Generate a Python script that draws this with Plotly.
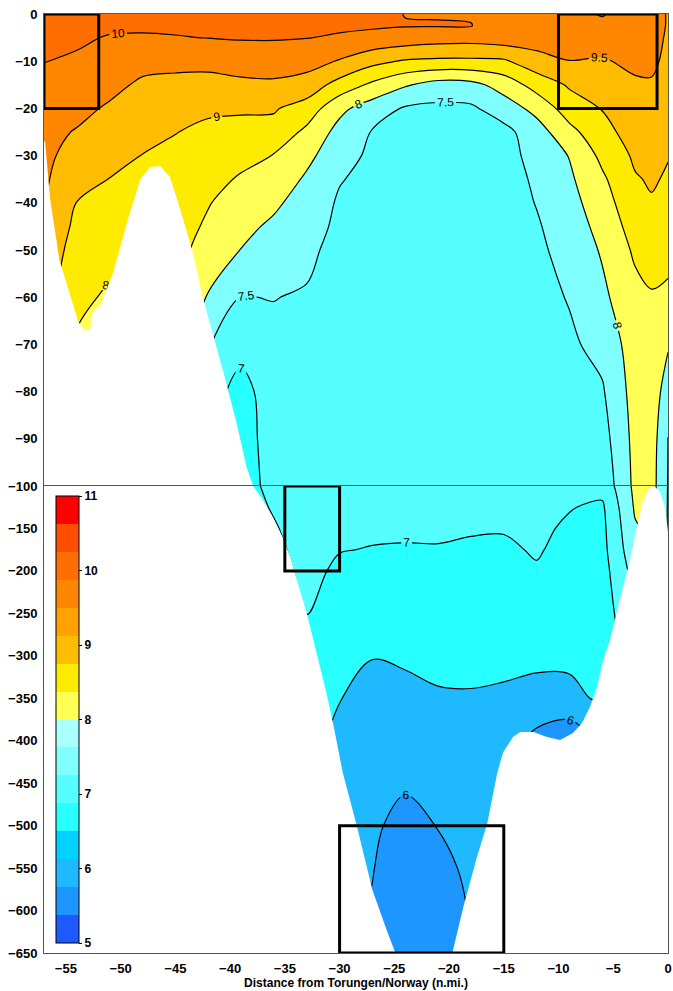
import plotly.graph_objects as go
from plotly.subplots import make_subplots

# ---------------- data ----------------
distance_nmi = [-57, -54, -51, -48, -45, -42, -39, -36, -33, -30, -27, -24, -21,
                -18, -15, -12, -9, -6, -3, -1.5, 0]
depth_m = [0, 2.5, 5, 10, 15, 20, 25, 30, 35, 40, 45, 50, 60, 70, 80, 90, 100,
           125, 150, 175, 200, 250, 300, 350, 400, 450, 500, 550, 600, 650]

# temperature profiles (deg C) at each distance, listed by depth_m
temp_m57 = [10.30, 10.26, 10.18, 10.01, 9.86, 9.74, 9.63, 9.60, 9.57, 9.53, 9.45, 9.35, 9.20, 9.05, 8.90, 8.80, 8.70, 8.50, 8.30, 8.10, 7.90, 7.60, 7.30, 7.00, 6.80, 6.60, 6.40, 6.30, 6.20, 6.10]
temp_m54 = [10.25, 10.17, 10.07, 9.94, 9.78, 9.63, 9.47, 9.33, 9.16, 8.99, 8.88, 8.78, 8.60, 8.45, 8.35, 8.28, 8.20, 8.00, 7.80, 7.60, 7.45, 7.20, 7.00, 6.80, 6.60, 6.45, 6.35, 6.25, 6.15, 6.10]
temp_m51 = [10.20, 10.08, 9.97, 9.80, 9.63, 9.44, 9.30, 9.16, 8.99, 8.88, 8.80, 8.66, 8.44, 8.30, 8.20, 8.10, 8.00, 7.80, 7.60, 7.45, 7.30, 7.10, 6.90, 6.75, 6.60, 6.45, 6.35, 6.25, 6.15, 6.10]
temp_m48 = [10.18, 10.06, 9.96, 9.65, 9.42, 9.25, 9.12, 8.99, 8.88, 8.80, 8.75, 8.70, 8.60, 8.55, 8.45, 8.35, 8.25, 8.00, 7.80, 7.60, 7.45, 7.20, 7.00, 6.80, 6.60, 6.45, 6.35, 6.25, 6.15, 6.10]
temp_m45 = [10.15, 10.07, 9.98, 9.65, 9.35, 9.15, 9.01, 8.92, 8.85, 8.80, 8.74, 8.68, 8.60, 8.52, 8.40, 8.30, 8.20, 8.00, 7.80, 7.60, 7.45, 7.20, 7.00, 6.80, 6.60, 6.45, 6.35, 6.25, 6.15, 6.10]
temp_m42 = [10.14, 10.07, 10.01, 9.62, 9.36, 9.06, 8.92, 8.80, 8.68, 8.53, 8.42, 8.28, 7.96, 7.55, 7.10, 7.05, 6.98, 6.94, 6.90, 6.86, 6.82, 6.75, 6.70, 6.60, 6.52, 6.42, 6.32, 6.22, 6.15, 6.10]
temp_m39 = [10.15, 10.09, 10.03, 9.75, 9.38, 9.04, 8.90, 8.66, 8.44, 8.25, 8.12, 7.99, 7.49, 7.08, 6.92, 6.90, 6.90, 6.85, 6.82, 6.80, 6.78, 6.70, 6.65, 6.55, 6.47, 6.38, 6.28, 6.20, 6.15, 6.10]
temp_m36 = [10.16, 10.10, 10.03, 9.78, 9.40, 9.04, 8.86, 8.48, 8.30, 8.08, 7.92, 7.82, 7.51, 7.40, 7.12, 7.10, 7.07, 7.03, 6.97, 6.92, 6.88, 6.80, 6.70, 6.60, 6.52, 6.42, 6.32, 6.22, 6.15, 6.10]
temp_m33 = [10.18, 10.10, 10.01, 9.70, 9.28, 8.80, 8.38, 8.12, 7.93, 7.80, 7.70, 7.60, 7.46, 7.38, 7.32, 7.28, 7.25, 7.20, 7.16, 7.12, 7.08, 7.01, 6.90, 6.75, 6.62, 6.48, 6.38, 6.28, 6.20, 6.12]
temp_m30 = [10.15, 10.06, 9.96, 9.46, 8.82, 8.12, 7.84, 7.70, 7.53, 7.44, 7.40, 7.35, 7.30, 7.26, 7.23, 7.20, 7.17, 7.12, 7.06, 7.01, 6.95, 6.85, 6.68, 6.51, 6.40, 6.30, 6.20, 6.12, 6.08, 6.05]
temp_m27 = [10.12, 10.05, 9.88, 9.15, 8.40, 7.75, 7.47, 7.40, 7.36, 7.33, 7.30, 7.28, 7.25, 7.22, 7.20, 7.18, 7.15, 7.10, 7.04, 6.99, 6.90, 6.75, 6.51, 6.40, 6.30, 6.20, 6.04, 6.01, 5.98, 5.95]
temp_m24 = [9.99, 10.02, 9.80, 8.95, 8.05, 7.45, 7.38, 7.34, 7.31, 7.29, 7.27, 7.25, 7.22, 7.20, 7.18, 7.16, 7.14, 7.10, 7.04, 6.98, 6.90, 6.75, 6.53, 6.44, 6.20, 6.03, 5.92, 5.85, 5.82, 5.80]
temp_m21 = [9.98, 10.02, 9.72, 8.90, 7.80, 7.40, 7.33, 7.30, 7.28, 7.26, 7.25, 7.24, 7.22, 7.20, 7.18, 7.16, 7.14, 7.10, 7.05, 6.98, 6.90, 6.76, 6.60, 6.46, 6.30, 6.15, 6.01, 5.90, 5.85, 5.82]
temp_m18 = [9.97, 10.01, 9.70, 8.90, 7.85, 7.42, 7.34, 7.31, 7.29, 7.27, 7.26, 7.25, 7.23, 7.21, 7.19, 7.17, 7.15, 7.10, 7.03, 6.95, 6.88, 6.75, 6.60, 6.47, 6.35, 6.25, 6.15, 6.07, 6.02, 6.01]
temp_m15 = [9.92, 9.88, 9.78, 8.93, 8.20, 7.75, 7.35, 7.30, 7.28, 7.26, 7.25, 7.24, 7.22, 7.20, 7.18, 7.16, 7.14, 7.09, 7.02, 6.95, 6.88, 6.75, 6.58, 6.45, 6.30, 6.20, 6.12, 6.08, 6.05, 6.03]
temp_m12 = [9.90, 9.82, 9.75, 9.30, 8.70, 8.15, 7.78, 7.68, 7.58, 7.52, 7.45, 7.40, 7.34, 7.30, 7.27, 7.24, 7.20, 7.14, 7.08, 7.03, 6.97, 6.80, 6.60, 6.35, 5.85, 5.80, 5.80, 5.80, 5.80, 5.80]
temp_m9 = [9.92, 9.85, 9.78, 9.49, 9.06, 8.75, 8.35, 8.02, 7.92, 7.83, 7.76, 7.68, 7.53, 7.42, 7.35, 7.28, 7.20, 7.02, 6.94, 6.90, 6.86, 6.75, 6.56, 6.42, 5.60, 5.70, 5.75, 5.80, 5.80, 5.80]
temp_m6 = [10.02, 9.93, 9.75, 9.45, 9.25, 9.02, 8.85, 8.62, 8.42, 8.28, 8.15, 8.05, 7.90, 7.65, 7.45, 7.30, 7.15, 6.93, 6.88, 6.85, 6.80, 6.72, 6.60, 6.55, 6.20, 6.10, 6.05, 6.03, 6.02, 6.02]
temp_m3 = [9.85, 9.80, 9.75, 9.62, 9.42, 9.30, 9.20, 9.08, 8.96, 8.85, 8.72, 8.58, 8.35, 8.25, 8.20, 8.15, 8.12, 8.06, 7.95, 7.85, 7.70, 7.48, 7.30, 7.10, 6.98, 6.90, 6.80, 6.70, 6.60, 6.52]
temp_m1p5 = [9.80, 9.78, 9.72, 9.60, 9.45, 9.35, 9.25, 9.15, 9.05, 8.96, 8.85, 8.74, 8.45, 8.35, 8.30, 8.25, 8.20, 8.15, 8.10, 8.02, 7.90, 7.70, 7.45, 7.30, 7.10, 6.95, 6.85, 6.75, 6.65, 6.55]
temp_0 = [9.45, 9.45, 9.42, 9.38, 9.30, 9.20, 9.10, 9.02, 8.95, 8.85, 8.75, 8.65, 8.40, 8.05, 7.75, 7.49, 7.48, 7.47, 7.46, 7.40, 7.30, 7.10, 6.90, 6.70, 6.60, 6.48, 6.40, 6.30, 6.20, 6.10]

profiles = [temp_m57, temp_m54, temp_m51, temp_m48, temp_m45, temp_m42, temp_m39,
            temp_m36, temp_m33, temp_m30, temp_m27, temp_m24, temp_m21, temp_m18,
            temp_m15, temp_m12, temp_m9, temp_m6, temp_m3, temp_m1p5, temp_0]

# bottom (seabed) profile: distance (n.mi.) and depth (m)
seabed_dist = [-57.0, -56.9, -56.45, -55.6, -53.9, -53.35, -52.8, -52.5, -51.9, -50.7,
               -49.4, -48.2, -47.3, -46.4, -45.5, -44.6, -43.4, -42.5, -41.6, -40.6,
               -39.4, -38.5, -37.9, -37.0, -36.1, -35.2, -34.5, -33.9, -33.0, -32.1,
               -31.2, -30.6, -29.7, -28.4, -27.0, -25.7, -24.9, -22.3, -19.7, -18.7,
               -17.45, -16.5, -15.6, -15.07, -14.16, -13.5, -12.3, -11.05, -9.86, -8.68,
               -7.85, -7.12, -6.48, -5.93, -5.29, -4.38, -3.47, -2.83, -2.28, -1.64,
               -1.4, -1.19, -0.73, -0.27, 0.0]
seabed_depth = [27, 27, 39, 52, 65, 67, 67, 62.7, 62, 55,
                44, 35, 32.4, 32.2, 34.5, 41, 50.6, 60, 67.6, 76,
                86.7, 96, 100, 116.5, 136.5, 160, 183.6, 210.7, 249.6, 296.7,
                343.8, 379, 438, 501.6, 575.8, 623, 650, 690, 650, 596,
                537, 497, 438, 414, 395.6, 389.7, 389.7, 395.6, 399, 391,
                379, 360, 336.7, 305, 281, 233, 187, 148, 116.5, 102,
                100.5, 101, 107, 125, 155]

# highlighted boxes
box_left = [-57, -10, -35, -30]
box_right = [-52, -1, -30, -15]
box_top = [0, 0, -100, -500]
box_bottom = [-20, -20, -200, -650]
box_panel = ["y", "y", "y2", "y2"]

# colour map (16 steps from 5 to 11)
cmap_colors = ["rgb(30,90,255)", "rgb(30,150,255)", "rgb(30,185,255)", "rgb(0,210,255)",
               "rgb(40,255,255)", "rgb(85,255,255)", "rgb(128,255,255)", "rgb(170,255,255)",
               "rgb(255,255,85)", "rgb(255,235,0)", "rgb(255,188,0)", "rgb(255,162,0)",
               "rgb(255,135,0)", "rgb(255,110,0)", "rgb(255,78,0)", "rgb(255,0,0)"]
cmin, cmax = 5, 11
contour_levels = [6, 6.5, 7, 7.5, 8, 8.5, 9, 9.5, 10]

# ---------------- build ----------------
n_x = len(distance_nmi)
z_rows = [[profiles[j][i] for j in range(n_x)] for i in range(len(depth_m))]
y_vals = [-d for d in depth_m][::-1]
z_rows = z_rows[::-1]

step = (cmax - cmin) / len(cmap_colors)
band_lows = [contour_levels[0] - 0.5] + contour_levels
band_colors = [cmap_colors[int((b - cmin) / step)] for b in band_lows]
nb = len(band_colors) - 1
fill_scale = [[k / nb, c] for k, c in enumerate(band_colors)]

cb_scale = []
n = len(cmap_colors)
for i, c in enumerate(cmap_colors):
    cb_scale.append([i / n, c])
    cb_scale.append([(i + 1) / n, c])

fig = make_subplots(rows=2, cols=1, shared_xaxes=True, vertical_spacing=0,
                    row_heights=[472 / 939, 467 / 939])

mask_x = seabed_dist + [0, -57]
mask_y = [-d for d in seabed_depth] + [-700, -700]

for r in (1, 2):
    fig.add_trace(go.Contour(
        x=distance_nmi, y=y_vals, z=z_rows,
        autocontour=False,
        contours=dict(start=contour_levels[0], end=contour_levels[-1], size=0.5,
                      coloring="fill", showlines=True, showlabels=True,
                      labelfont=dict(size=12, color="black",
                                     family="Liberation Sans, Arial, sans-serif")),
        line=dict(color="black", width=1.2, smoothing=1),
        colorscale=fill_scale, showscale=False, hoverinfo="skip"),
        row=r, col=1)
    fig.add_trace(go.Scatter(
        x=mask_x, y=mask_y, mode="lines", fill="toself", fillcolor="white",
        line=dict(width=0, color="white"), hoverinfo="skip", showlegend=False),
        row=r, col=1)

fig.add_trace(go.Scatter(
    x=[None], y=[None], mode="markers", showlegend=False, hoverinfo="skip",
    marker=dict(color=[cmin], colorscale=cb_scale, cmin=cmin, cmax=cmax, showscale=True,
                colorbar=dict(x=(56 - 44) / 624, xanchor="left",
                              y=(953 - 943) / 939, yanchor="bottom",
                              len=447, lenmode="pixels", thickness=23, thicknessmode="pixels",
                              xpad=0, ypad=0, outlinewidth=1, outlinecolor="black",
                              tickvals=list(range(5, 12)), ticks="outside", ticklen=3,
                              tickcolor="black",
                              tickfont=dict(size=12, color="black", weight="bold")))),
    row=2, col=1)

for i in range(len(box_left)):
    fig.add_shape(type="rect", xref="x", yref=box_panel[i],
                  x0=box_left[i], x1=box_right[i], y0=box_bottom[i], y1=box_top[i],
                  line=dict(color="black", width=3), layer="above")

axis_common = dict(showgrid=False, zeroline=False, showline=True, linecolor="#555",
                   linewidth=1, mirror=True, ticks="outside", ticklen=3,
                   tickcolor="rgba(0,0,0,0)", automargin=False)
tick_font = dict(size=13, color="black", weight="bold")

fig.update_xaxes(range=[-57, 0], **axis_common)
fig.update_xaxes(showticklabels=False, row=1, col=1)
fig.update_xaxes(tickvals=list(range(-55, 1, 5)), tickfont=tick_font,
                 title=dict(text="Distance from Torungen/Norway (n.mi.)",
                            font=dict(size=12, color="black", weight="bold"), standoff=1),
                 row=2, col=1)
fig.update_yaxes(range=[-100, 0], tickvals=list(range(0, -100, -10)), tickfont=tick_font,
                 row=1, col=1, **axis_common)
fig.update_yaxes(range=[-650, -100], tickvals=list(range(-100, -651, -50)), tickfont=tick_font,
                 row=2, col=1, **axis_common)

fig.update_layout(width=673, height=991, margin=dict(l=44, r=5, t=14, b=38, autoexpand=False),
                  paper_bgcolor="white", plot_bgcolor="white", showlegend=False,
                  font=dict(family="Liberation Sans, Arial, sans-serif", color="black"))

# remove the default page margin so the figure fills the window exactly
fig.write_html("out.html", config={"displayModeBar": False},
               post_script="document.body.style.margin='0px';document.body.style.padding='0px';")
